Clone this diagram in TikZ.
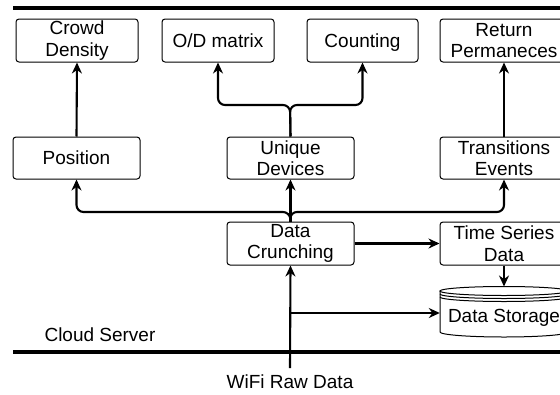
\documentclass[tikz,border=0pt]{standalone}
\usepackage{fontspec}
\setmainfont{Liberation Sans}
\usetikzlibrary{arrows.meta,positioning}

\tikzset{
  box/.style={draw,rounded corners=3pt,line width=1pt,align=center,
    minimum height=43pt,inner sep=0pt,font=\fontsize{19}{21.5}\selectfont},
  link/.style={-{Stealth[length=11pt,width=10pt]},line width=2.1pt,rounded corners=7pt},
  sep/.style={line width=3.2pt}
}

\begin{document}
\begin{tikzpicture}[x=1pt,y=-1pt]
  \useasboundingbox (0,0) rectangle (560,394);
  \clip (0,0) rectangle (560,394);

  % server borders
  \draw[sep] (13,8) -- (560,8);
  \draw[sep] (13,352) -- (560,352);

  % result boxes
  \node[box,minimum width=122pt] (crowd) at (77,40.5) {Crowd\\Density};
  \node[box,minimum width=112pt] (od) at (218,40.5) {O/D matrix};
  \node[box,minimum width=111pt,text depth=0pt] (count) at (362.5,40.5) {Counting};
  \node[box,minimum width=128pt] (ret) at (504,40.5) {Return\\Permaneces};

  % processing boxes
  \node[box,minimum width=127pt,minimum height=42pt] (pos) at (76.5,158) {Position};
  \node[box,minimum width=127pt,minimum height=42pt] (uniq) at (290.5,158) {Unique\\Devices};
  \node[box,minimum width=128pt,minimum height=42pt] (trans) at (504,158) {Transitions\\Events};
  \node[box,minimum width=127pt] (crunch) at (290.5,243.5) {Data\\Crunching};
  \node[box,minimum width=128pt] (ts) at (504,243.5) {Time Series\\Data};

  % data storage cylinder
  \draw[line width=1pt] (504,291) ellipse [x radius=64,y radius=4.5];
  \draw[line width=1pt] (440,294) arc (180:0:64 and 4.5);
  \draw[line width=1pt] (440,297) arc (180:0:64 and 4.5);
  \draw[line width=1pt] (440,291) -- (440,332) arc (180:0:64 and 5) -- (568,291);
  \node[font=\fontsize{19}{21.5}\selectfont,minimum width=128pt] (store) at (504,318) {Data Storage};
  \coordinate (storetop) at (504,286.5);

  \node[font=\fontsize{19}{21.5}\selectfont,anchor=west] (cloud) at (41,335) {Cloud Server};
  \node[font=\fontsize{19}{21.5}\selectfont] (wifi) at (290,382) {WiFi Raw Data};

  % connectors
  \coordinate (rawin) at (290,368);
  \coordinate (split) at (290,313);
  \draw[link] (rawin) -- (crunch.south);
  \draw[link] (split) -- (split -| store.west);
  \draw[link] (crunch.east) -- (ts.west);
  \draw[link] (ts.south) -- (storetop);

  \draw[link] (crunch.north) -- (290,212) -| (pos.south);
  \draw[link] (crunch.north) -- (290,212) -| (trans.south);
  \draw[link] (crunch.north) -- (uniq.south);

  \draw[link] (uniq.north) -- (290,105) -| (od.south);
  \draw[link] (uniq.north) -- (290,105) -| (count.south);

  \draw[link] (pos.north) -- (crowd.south);
  \draw[link] (trans.north) -- (ret.south);
\end{tikzpicture}
\end{document}
